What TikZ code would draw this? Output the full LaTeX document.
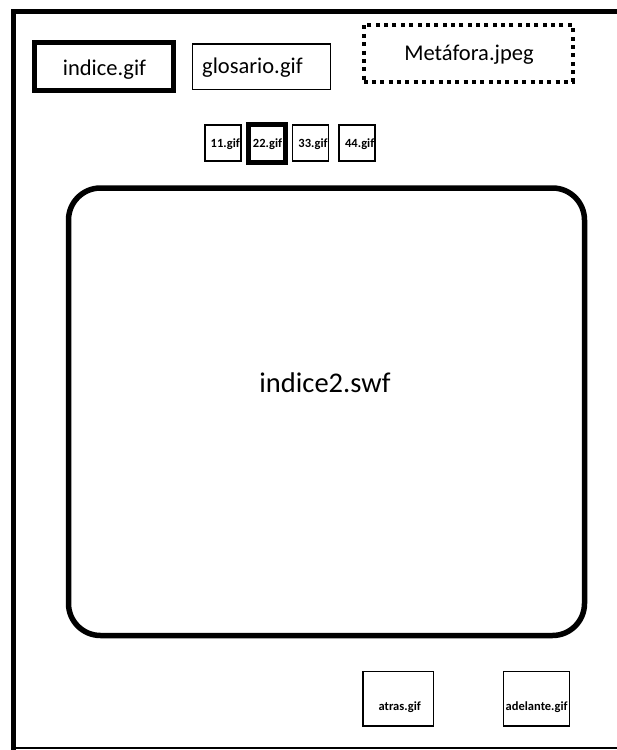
\documentclass[tikz,border=0pt]{standalone}
\usepackage{fontspec}
\setmainfont{Carlito}
\begin{document}
\begin{tikzpicture}[x=1pt,y=-1pt,
  thinbox/.style={draw, rectangle, inner sep=0pt, line width=1.5pt},
  thickbox/.style={draw, rectangle, inner sep=0pt, line width=5pt},
  dotbox/.style={draw, rectangle, inner sep=0pt, line width=4pt, dash pattern=on 4pt off 4.35pt},
  stage/.style={draw, rectangle, rounded corners=32pt, inner sep=0pt, line width=5.5pt},
  lbl/.style={inner sep=0pt, anchor=base, font=\fontsize{22.5}{26}\selectfont},
  biglbl/.style={inner sep=0pt, anchor=base, font=\fontsize{28.5}{33}\selectfont},
  smalllbl/.style={inner sep=0pt, anchor=base, font=\bfseries\fontsize{12.5}{14}\selectfont},
  frameline/.style={line cap=butt}]
\useasboundingbox (0,0) rectangle (617,750);
% outer frame
\draw[frameline, line width=4.5pt] (11,11.5) -- (617,11.5);
\draw[frameline, line width=5pt] (13.5,9.25) -- (13.5,750);
\draw[frameline, line width=2pt] (11,748.3) -- (617,748.3);
% top buttons
\node[thickbox, minimum width=139pt, minimum height=48pt] (indice) at (104,66) {};
\node[lbl] (indicetxt) at (104.5,75) {indice.gif};
\node[thinbox, minimum width=138pt, minimum height=45.5pt] (glos) at (261.5,66.75) {};
\node[lbl] (glostxt) at (252.5,73) {glosario.gif};
\node[dotbox, minimum width=209.5pt, minimum height=56.5pt] (meta) at (468.25,53.25) {};
\node[lbl] (metatxt) at (469,60) {Metáfora.jpeg};
% small page buttons
\node[thinbox, minimum width=36pt, minimum height=36pt] (b11) at (223,143) {};
\node[smalllbl] (t11) at (225.3,147) {11.gif};
\node[thickbox, minimum width=36.5pt, minimum height=38.3pt] (b22) at (266.75,143.35) {};
\node[smalllbl] (t22) at (267.5,147) {22.gif};
\node[thinbox, minimum width=36pt, minimum height=36pt] (b33) at (310.5,143) {};
\node[smalllbl] (t33) at (313,147) {33.gif};
\node[thinbox, minimum width=36pt, minimum height=36pt] (b44) at (357,143) {};
\node[smalllbl] (t44) at (359.7,147) {44.gif};
% stage
\node[stage, minimum width=516pt, minimum height=447.5pt] (stage) at (326.5,411.75) {};
\node[biglbl] (stagetxt) at (325,392.7) {indice2.swf};
% navigation
\node[thinbox, minimum width=70.5pt, minimum height=54.5pt] (atras) at (398.25,698.75) {};
\node[smalllbl] (atrastxt) at (399.7,710) {atras.gif};
\node[thinbox, minimum width=66pt, minimum height=54.5pt] (adel) at (536.5,698.75) {};
\node[smalllbl] (adeltxt) at (536.7,710) {adelante.gif};
\end{tikzpicture}
\end{document}
